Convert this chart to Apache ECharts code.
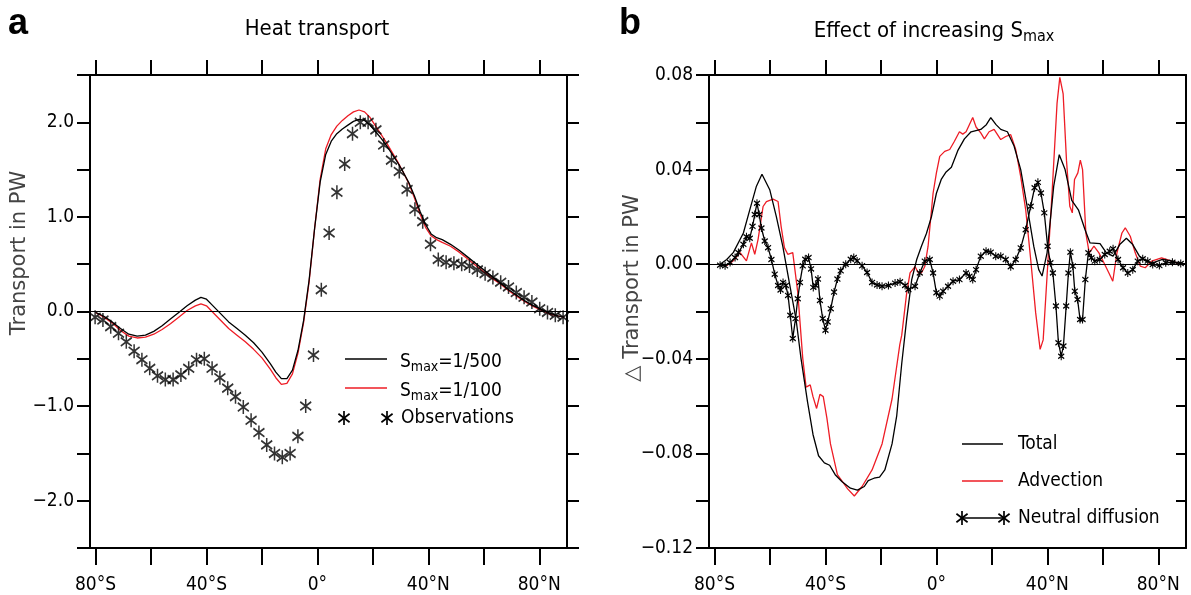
<!DOCTYPE html>
<html><head><meta charset="utf-8">
<script src="https://cdn.jsdelivr.net/npm/echarts@6/dist/echarts.min.js"></script>
<style>html,body{margin:0;padding:0;background:#fff}#c{width:1191px;height:595px}</style>
</head><body><div id="c"></div>
<script>
// ---------- DATA ----------
const latTicks = [-80,-60,-40,-20,0,20,40,60,80];
const latLabels = [-80,-40,0,40,80];
const heatYLabels = [-2,-1,0,1,2];
const dYLabels = [-0.12,-0.08,-0.04,0,0.04,0.08];

// panel a: model curves
const latA = [-80,-77,-74,-71,-68,-65,-62,-59,-56,-53,-50,-47,-44,-42,-40,-38,-35,-32,-29,-26,-23,-20,-17,-15,-13,-11,-9,-7,-5,-3,-1,1,3,5,7,9,11,13,15,17,19,21,23,25,27,29,31,33,35,37,39,41,43,45,48,51,54,57,60,63,66,69,72,75,78,81,84,87,89];
const smax500 = [-0.01,-0.05,-0.11,-0.18,-0.24,-0.26,-0.25,-0.21,-0.15,-0.08,-0.01,0.06,0.12,0.15,0.13,0.07,
  -0.02,-0.11,-0.18,-0.25,-0.33,-0.43,-0.55,
  -0.64,-0.71,-0.71,-0.62,-0.41,-0.10,0.33,0.88,
  1.37,1.66,1.80,1.88,1.93,1.97,2.01,2.03,2.02,1.97,1.90,1.83,1.75,1.66,1.57,1.47,1.36,1.22,1.06,0.92,0.82,0.78,0.76,
  0.71,0.65,0.58,0.51,0.44,0.37,0.30,0.23,0.17,0.11,0.06,0.02,-0.02,-0.05,-0.06];
const smax100 = [-0.01,-0.06,-0.12,-0.20,-0.26,-0.28,-0.27,-0.24,-0.19,-0.13,-0.06,0.01,0.06,0.08,0.06,0.00,
  -0.09,-0.18,-0.25,-0.32,-0.40,-0.49,-0.61,
  -0.70,-0.77,-0.76,-0.66,-0.44,-0.12,0.31,0.88,
  1.40,1.72,1.87,1.96,2.02,2.07,2.11,2.13,2.11,2.05,1.96,1.87,1.78,1.68,1.58,1.47,1.35,1.20,1.03,0.89,0.80,0.76,0.73,
  0.69,0.63,0.56,0.49,0.42,0.35,0.29,0.22,0.16,0.10,0.05,0.01,-0.03,-0.05,-0.06];

// panel a: observations
const obsLat = [-80.16,-77.34,-74.53,-71.72,-68.91,-66.09,-63.28,-60.47,-57.66,-54.84,-52.03,-49.22,-46.41,-43.59,-40.78,-37.97,-35.16,-32.34,-29.53,-26.72,-23.91,-21.09,-18.28,-15.47,-12.66,-9.84,-7.03,-4.22,-1.41,1.41,4.22,7.03,9.84,12.66,15.47,18.28,21.09,23.91,26.72,29.53,32.34,35.16,37.97,40.78,43.59,46.41,49.22,52.03,54.84,57.66,60.47,63.28,66.09,68.91,71.72,74.53,77.34,80.16,82.97,85.78,88.59];
const obsVal = [-0.06,-0.09,-0.16,-0.23,-0.32,-0.42,-0.51,-0.60,-0.68,-0.72,-0.72,-0.67,-0.60,-0.51,-0.50,-0.60,-0.70,-0.81,-0.90,-1.01,-1.15,-1.28,-1.41,-1.50,-1.54,-1.50,-1.32,-1.00,-0.46,
  0.23,0.83,1.26,1.56,1.88,2.00,2.00,1.92,1.76,1.60,1.48,1.29,1.08,0.95,0.71,0.55,0.52,0.51,0.50,0.48,0.44,0.40,0.36,0.31,0.26,0.20,0.15,0.10,0.03,-0.01,-0.04,-0.06];

// panel b: total
const totLat = [-78,-75.6,-73.2,-69.6,-67.3,-64.9,-62.9,-60.1,-57.7,-55.4,-53,-50.6,-48.8,-46.5,-44.5,-42.5,-40.4,-38.5,-36.5,-34,-31,-28.5,-26,-24.6,-22.5,-20.5,-18.6,-16,-14.3,-12.5,-10.7,-8.9,-7.1,-5.4,-3.6,-1.8,0,1.8,3.5,5.4,7.7,10.1,12.5,16,18,19.6,21.5,23.2,25.6,28,30.4,32.7,35.1,36.9,38.1,39.9,42.3,44.3,46.4,48.8,51.2,53.6,55.4,59,61.3,63.7,66.1,68.5,70.8,73.2,75.6,78,81.5,85.1,88.7];
const totVal = [0,0.002,0.005,0.0132,0.023,0.033,0.038,0.0315,0.020,0.0076,-0.008,-0.0234,-0.040,-0.058,-0.072,-0.081,-0.084,-0.085,-0.089,-0.092,-0.0947,-0.0955,-0.094,-0.0915,-0.0905,-0.090,-0.087,-0.076,-0.064,-0.042,-0.023,-0.0065,0.002,0.0076,0.013,0.020,0.030,0.036,0.039,0.041,0.048,0.053,0.056,0.057,0.059,0.062,0.059,0.057,0.056,0.050,0.040,0.0245,0.0076,-0.0023,-0.005,0.0048,0.033,0.0463,0.040,0.027,0.023,0.0146,0.009,0.0087,0.0048,0.0034,0.0083,0.011,0.0083,0.0034,0.0013,0.0006,0.002,0.0013,0];

// panel b: advection
const advLat = [-78,-75.6,-73.2,-70.8,-68.5,-66.7,-65.5,-64.3,-62.5,-61.3,-58.9,-57.1,-56,-54.8,-53.6,-51.8,-50,-48.2,-47,-45.5,-44.5,-43.2,-42,-40.8,-39.5,-38.2,-35.7,-32,-29.6,-26.8,-23.2,-19.6,-16,-13.2,-12.5,-10.7,-9.5,-7.7,-6.5,-5.4,-4.2,-3,-1.2,0,1.2,3,4.8,6.5,8.3,9.5,10.7,13.1,14.3,16,17.3,19,20.8,23.2,25,26.8,28.6,30.4,32.2,34,35.8,37.4,38.5,39.9,41.7,43.5,44.5,45.7,46.9,48.1,49,49.8,51,51.9,52.7,53.9,55.1,56.8,58.6,60.4,62.2,63.6,65.1,66.9,68.1,69.9,71.7,73.5,75.3,77.6,81.2,84.8,88.3];
const advVal = [0,-0.0005,0.0015,0.0049,0.0014,0.009,0.0042,0.0105,0.0244,0.0265,0.0275,0.0265,0.016,0.007,0.0042,0.0049,-0.0118,-0.0397,-0.052,-0.051,-0.056,-0.061,-0.055,-0.056,-0.065,-0.076,-0.089,-0.095,-0.098,-0.094,-0.087,-0.076,-0.057,-0.034,-0.030,-0.012,-0.0037,-0.001,-0.0037,-0.0037,-0.001,0.0076,0.030,0.0386,0.0456,0.0477,0.0485,0.052,0.056,0.055,0.056,0.062,0.058,0.0555,0.053,0.056,0.057,0.0527,0.054,0.0548,0.0485,0.037,0.023,0.002,-0.0206,-0.036,-0.032,-0.005,0.030,0.068,0.079,0.072,0.044,0.0245,0.0217,0.0358,0.0386,0.044,0.040,0.013,0.0048,0.0076,0.0048,0.0006,-0.0037,-0.0072,0.0048,0.0132,0.0154,0.0118,0.0048,-0.0008,-0.0015,0.0013,0.0027,0.0013,0];

// panel b: neutral diffusion
const ndLat = [-78,-76.2,-74.4,-72.6,-71.4,-69.6,-68.5,-67.3,-66.3,-65.5,-64.7,-63.9,-63.1,-61.9,-60.7,-59.5,-58.3,-57.1,-56.2,-55.3,-54.3,-53.5,-52.7,-51.8,-50.8,-50,-49.2,-48.2,-47.3,-46.1,-45.2,-44.4,-43.5,-42.7,-42,-41,-40,-39.2,-38.1,-36.9,-35.7,-34.5,-32.7,-30.9,-29.8,-28.6,-26.8,-25,-23.2,-21.4,-19.6,-17.3,-14.9,-13.1,-11.3,-10.1,-7.7,-6,-4.2,-2.4,-1.2,0,1.2,2.4,4.2,6,8.3,10.7,11.9,13.1,14.3,16,17.9,19.6,21.4,23.2,25,26.8,28.6,30.4,32.2,34,35.4,36.6,37.7,38.9,40.1,41.1,42,43.1,44,45,45.8,46.8,47.6,48.3,49.2,49.9,50.9,51.8,52.7,53.7,54.8,55.9,57.1,58.9,60.7,62.5,63.7,65.5,67.3,69,70.8,72.6,74.4,76.2,78,80.4,82.7,85.1,88.1];
const ndVal = [-0.0004,-0.0007,0.0007,0.0028,0.0049,0.0084,0.0116,0.011,0.016,0.021,0.0258,0.021,0.0153,0.0098,0.007,0.002,-0.0042,-0.009,-0.0109,-0.0077,-0.009,-0.0132,-0.0216,-0.0314,-0.023,-0.0146,-0.0077,-0.0007,0.0021,0.0028,-0.002,-0.0098,-0.009,-0.0063,-0.0153,-0.023,-0.0279,-0.0244,-0.0188,-0.0118,-0.0063,-0.0028,0,0.0021,0.0028,0.0014,-0.0007,-0.0035,-0.0077,-0.0088,-0.0093,-0.009,-0.008,-0.0074,-0.009,-0.0107,-0.0093,-0.0037,0.0013,0.002,-0.0037,-0.0121,-0.0135,-0.0114,-0.0093,-0.0072,-0.0065,-0.0037,-0.0051,-0.0065,-0.0023,0.0034,0.0055,0.0051,0.0034,0.0034,0.002,-0.0011,0.002,0.0069,0.0146,0.0245,0.0323,0.0346,0.0301,0.0217,0.0076,0.0006,-0.0037,-0.0177,-0.0332,-0.0389,-0.0346,-0.0177,-0.0037,0.0051,-0.0008,-0.0114,-0.0149,-0.0234,-0.0234,-0.0065,0.0048,0.0027,0.0013,0.002,0.0041,0.0055,0.0065,0.002,-0.0015,-0.0037,-0.0023,0.0013,0.0023,0.0013,-0.0001,-0.0006,0.0006,0.0008,0.0003];

// ---------- CHART ----------
const zip = (xs, ys) => xs.map((x, i) => [x, ys[i]]);
const F = '"Liberation Sans Narrow","DejaVu Sans Condensed","Liberation Sans",sans-serif';
const STAR = 'path://M0,-1L0,1M-0.8,-0.6L0.8,0.6M-0.8,0.6L0.8,-0.6';
const RED = '#ee1c25';
const fmtLat = v => v === 0 ? '0°' : (v < 0 ? (-v) + '°S' : v + '°N');
const minus = s => s.replace('-', '\u2212');
const AX = {color:'#000', width:2};
const FS = 19;

function xAxes(g){
  return [
    {gridIndex:g, type:'value', min:-82, max:90, position:'bottom',
     axisLine:{show:true, onZero:false, lineStyle:AX},
     axisTick:{show:true, customValues:latTicks, length:17, lineStyle:AX},
     axisLabel:{show:true, customValues:latLabels, formatter:fmtLat, margin:28, fontSize:FS, fontFamily:F, color:'#000'},
     splitLine:{show:false}},
    {gridIndex:g, type:'value', min:-82, max:90, position:'top',
     axisLine:{show:true, onZero:false, lineStyle:AX},
     axisTick:{show:true, customValues:latTicks, length:15, lineStyle:AX},
     axisLabel:{show:false}, splitLine:{show:false}}
  ];
}
function yAxes(g, min, max, interval, labels, dec, rightInside){
  return [
    {gridIndex:g, type:'value', min, max, interval, position:'left',
     axisLine:{show:true, onZero:false, lineStyle:AX},
     axisTick:{show:true, length:13, lineStyle:AX},
     axisLabel:{show:true, customValues:labels, formatter:v => minus(v.toFixed(dec)), margin:16, fontSize:FS, fontFamily:F, color:'#000'},
     splitLine:{show:false}},
    {gridIndex:g, type:'value', min, max, interval, position:'right',
     axisLine:{show:true, onZero:false, lineStyle:AX},
     axisTick:{show:true, inside:rightInside, length:rightInside ? 10 : 12, lineStyle:AX},
     axisLabel:{show:false}, splitLine:{show:false}}
  ];
}
const zeroLine = {silent:true, symbol:['none','none'], label:{show:false}, lineStyle:{color:'#000', width:1, type:'solid'}, data:[{yAxis:0}]};

const sub = {
  a:{fontSize:FS, fontFamily:F, color:'#000', lineHeight:24},
  s:{fontSize:14, fontFamily:F, color:'#000', lineHeight:12, verticalAlign:'bottom'}
};
const subT = {
  a:{fontSize:22, fontFamily:F, color:'#000', lineHeight:28},
  s:{fontSize:16, fontFamily:F, color:'#000', lineHeight:14, verticalAlign:'bottom'}
};

function txt(x, y, text, extra){
  return {type:'text', x, y, style:Object.assign({text, fontSize:FS, fontFamily:F, fill:'#000', align:'left', verticalAlign:'middle'}, extra||{})};
}
function seg(x1, y1, x2, y2, color, w){
  return {type:'line', shape:{x1, y1, x2, y2}, style:{stroke:color, lineWidth:w}};
}
function star(cx, cy){
  const h = 7, dx = 5.6, dy = 4.2;
  return {type:'group', children:[
    seg(cx, cy-h, cx, cy+h, '#000', 1.7),
    seg(cx-dx, cy-dy, cx+dx, cy+dy, '#000', 1.7),
    seg(cx-dx, cy+dy, cx+dx, cy-dy, '#000', 1.7)
  ]};
}
function hline(x1, x2, y, color){ return seg(x1, y, x2, y, color, 1.3); }

const option = {
  animation:false,
  backgroundColor:'#fff',
  grid:[{left:90, top:75, width:477, height:474}, {left:709, top:75, width:477, height:474}],
  xAxis:[...xAxes(0), ...xAxes(1)],
  yAxis:[...yAxes(0, -2.5, 2.5, 0.5, heatYLabels, 1, false), ...yAxes(1, -0.12, 0.08, 0.02, dYLabels, 2, true)],
  series:[
    {name:'Smax=1/500', type:'line', xAxisIndex:0, yAxisIndex:0, data:zip(latA, smax500), showSymbol:false, lineStyle:{color:'#000', width:1.3}, itemStyle:{color:'#000'}, markLine:zeroLine, z:3},
    {name:'Smax=1/100', type:'line', xAxisIndex:0, yAxisIndex:0, data:zip(latA, smax100), showSymbol:false, lineStyle:{color:RED, width:1.3}, itemStyle:{color:RED}, z:2},
    {name:'Observations', type:'scatter', xAxisIndex:0, yAxisIndex:0, data:zip(obsLat, obsVal), symbol:STAR, symbolSize:[11,14], itemStyle:{color:'none', borderColor:'#000', borderWidth:1.7}, z:4},
    {name:'Total', type:'line', xAxisIndex:2, yAxisIndex:2, data:zip(totLat, totVal), showSymbol:false, lineStyle:{color:'#000', width:1.3}, itemStyle:{color:'#000'}, markLine:zeroLine, z:3},
    {name:'Advection', type:'line', xAxisIndex:2, yAxisIndex:2, data:zip(advLat, advVal), showSymbol:false, lineStyle:{color:RED, width:1.3}, itemStyle:{color:RED}, z:2},
    {name:'Neutral diffusion', type:'line', xAxisIndex:2, yAxisIndex:2, data:zip(ndLat, ndVal), showSymbol:true, showAllSymbol:true, symbol:STAR, symbolSize:[6,8], lineStyle:{color:'#000', width:1.3}, itemStyle:{color:'none', borderColor:'#000', borderWidth:1.2}, z:4}
  ],
  graphic:[
    txt(8, 24, 'a', {fontSize:36, fontWeight:'bold', fontFamily:'"Liberation Sans",Arial,sans-serif'}),
    txt(619, 24, 'b', {fontSize:36, fontWeight:'bold', fontFamily:'"Liberation Sans",Arial,sans-serif'}),
    {type:'text', x:317, y:29, style:{text:'{a|Heat transport}', rich:subT, align:'center', verticalAlign:'middle'}},
    {type:'text', x:934, y:31, style:{text:'{a|Effect of increasing S}{s|max}', rich:subT, align:'center', verticalAlign:'middle'}},
    {type:'text', x:20, y:253, rotation:Math.PI/2, style:{text:'Transport in PW', fontSize:21, fontFamily:'"DejaVu Sans",sans-serif', fill:'#444', align:'center', verticalAlign:'middle'}},
    {type:'text', x:633, y:288, rotation:Math.PI/2, style:{text:'\u25B3 Transport in PW', fontSize:21, fontFamily:'"DejaVu Sans",sans-serif', fill:'#444', align:'center', verticalAlign:'middle'}},
    // legend a
    hline(345, 387, 359, '#000'),
    {type:'text', x:400, y:362, style:{text:'{a|S}{s|max}{a|=1/500}', rich:sub, align:'left', verticalAlign:'middle'}},
    hline(345, 387, 388, RED),
    {type:'text', x:400, y:391, style:{text:'{a|S}{s|max}{a|=1/100}', rich:sub, align:'left', verticalAlign:'middle'}},
    star(344, 418), star(387, 418),
    txt(401, 418, 'Observations'),
    // legend b
    hline(962, 1003, 444, '#000'),
    txt(1018, 444, 'Total'),
    hline(962, 1003, 481, RED),
    txt(1018, 481, 'Advection'),
    hline(962, 1004, 518, '#000'),
    star(962, 518), star(1004, 518),
    txt(1018, 518, 'Neutral diffusion')
  ]
};
const chart = echarts.init(document.getElementById('c'), null, {renderer:'canvas'});
chart.setOption(option);
</script></body></html>
